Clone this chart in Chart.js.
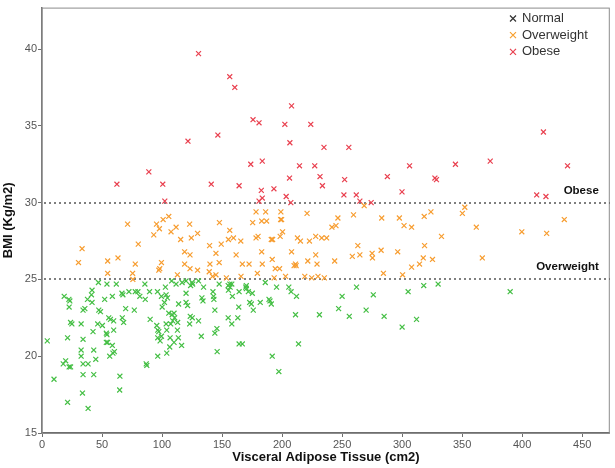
<!DOCTYPE html>
<html>
<head>
<meta charset="utf-8">
<script src="https://cdn.jsdelivr.net/npm/chart.js@4.4.0/dist/chart.umd.min.js"></script>
<style>
  html, body { margin: 0; padding: 0; background: #fff; }
</style>
</head>
<body>
<canvas id="bmiChart" width="615" height="468"></canvas>
<script>
// Axis ticks
const xTicks = [0, 50, 100, 150, 200, 250, 300, 350, 400, 450];
const yTicks = [15, 20, 25, 30, 35, 40];

// Cut-offs drawn as dotted lines
const cutoffValues = [30, 25];
const cutoffLabels = ['Obese', 'Overweight'];

// Groups
const groupNames = ['Normal', 'Overweight', 'Obese'];
const pointColors = ['#45bf45', '#f79d30', '#e9404f'];
const legendColors = ['#333333', '#f7a030', '#e8404f'];

// Normal: visceral adipose tissue (cm2) / BMI
const normalVat = [4.4, 10.0, 21.3, 18.5, 22.4, 23.2, 22.6, 23.8, 24.9, 21.3, 17.7, 19.7, 22.6, 23.8, 33.7, 38.4, 34.2, 43.1, 32.6, 32.6,
  34.2, 38.4, 34.2, 32.6, 34.2, 35.7, 37.9, 41.2, 41.7, 41.7, 43.1, 44.8, 42.5, 46.4, 50.3, 47.0, 47.3, 48.7, 52.2, 58.6,
  54.1, 61.9, 55.6, 57.0, 59.7, 53.6, 54.1, 59.7, 53.6, 54.7, 58.6, 56.4, 59.1, 60.3, 64.9, 64.7, 66.6, 67.4, 72.4, 77.7,
  79.9, 69.7, 76.9, 66.9, 68.0, 81.5, 86.0, 85.7, 89.6, 96.2, 102.8, 90.1, 86.8, 87.3, 96.4, 95.6, 96.4, 97.3, 96.4, 98.4,
  99.5, 99.5, 102.0, 103.4, 104.5, 100.1, 103.4, 103.9, 103.9, 106.4, 105.6, 108.4, 110.0, 110.5, 108.9, 107.2, 113.0, 112.8, 106.7, 113.6,
  116.3, 110.0, 108.0, 111.7, 120.0, 116.7, 120.0, 121.3, 120.0, 113.8, 123.8, 125.5, 125.0, 130.4, 134.6, 123.5, 125.2, 123.0, 130.4, 132.7,
  133.2, 134.1, 142.4, 142.9, 143.2, 144.0, 147.6, 145.7, 144.0, 145.9, 155.1, 156.5, 158.1, 155.3, 156.7, 158.6, 155.1, 158.1, 163.1, 163.9,
  164.2, 166.9, 164.2, 170.2, 170.2, 171.9, 175.2, 169.7, 173.0, 174.4, 176.0, 181.8, 186.0, 189.1, 189.9, 191.0, 195.4, 205.6, 207.5, 212.0,
  191.8, 197.3, 211.2, 231.1, 213.7, 247.1, 250.0, 256.0, 262.0, 270.0, 276.0, 285.0, 300.0, 305.0, 312.0, 318.0, 330.0, 390.0];
const normalBmi = [21.0, 18.5, 17.0, 23.9, 23.7, 23.6, 23.2, 22.2, 22.1, 21.2, 19.5, 19.7, 19.3, 19.3, 17.6, 16.6, 18.8, 18.8, 20.4, 20.0,
  19.5, 19.5, 21.1, 22.1, 23.0, 23.1, 23.7, 24.0, 24.3, 23.5, 20.4, 19.8, 21.6, 22.1, 22.0, 24.8, 23.0, 22.9, 23.7, 23.9,
  24.7, 24.7, 22.5, 22.4, 22.3, 21.5, 21.4, 21.7, 20.9, 20.9, 20.7, 20.0, 20.2, 20.3, 18.7, 17.8, 24.1, 24.0, 24.2, 24.2,
  24.2, 23.1, 23.0, 22.5, 22.2, 23.9, 23.7, 24.7, 24.2, 24.2, 24.5, 22.4, 19.5, 19.4, 20.0, 22.0, 21.7, 21.6, 21.2, 21.0,
  21.3, 23.9, 23.5, 24.0, 23.8, 23.2, 22.1, 21.7, 20.2, 20.6, 22.8, 22.7, 22.8, 22.5, 22.3, 22.1, 22.2, 21.7, 21.2, 21.2,
  20.7, 20.9, 24.9, 24.7, 24.9, 24.8, 24.1, 23.3, 23.5, 23.4, 24.6, 24.7, 24.8, 24.9, 24.5, 22.6, 22.5, 22.1, 22.3, 21.3,
  23.8, 23.6, 24.2, 23.9, 23.7, 23.0, 24.7, 21.8, 21.5, 20.3, 24.6, 24.7, 24.7, 24.3, 24.5, 23.9, 22.5, 22.1, 22.5, 23.2,
  20.8, 20.8, 24.2, 24.6, 24.4, 24.2, 24.1, 24.5, 23.5, 23.4, 23.0, 23.5, 24.8, 23.7, 23.6, 23.4, 24.5, 24.5, 24.2, 23.9,
  20.0, 19.0, 22.7, 22.7, 20.8, 23.1, 23.9, 22.6, 24.5, 23.0, 24.0, 22.6, 21.9, 24.2, 22.4, 24.6, 24.7, 24.2];

// Overweight
const overweightVat = [33.4, 30.4, 54.7, 63.3, 54.7, 71.3, 80.2, 77.7, 75.5, 75.7, 93.1, 95.4, 97.8, 100.9, 105.6, 107.5, 111.7, 99.5, 97.3, 98.1,
  115.5, 123.0, 124.4, 129.6, 118.8, 123.3, 118.8, 123.3, 129.6, 112.8, 139.6, 147.8, 149.3, 144.9, 147.6, 139.9, 139.3, 142.0, 144.9, 153.6,
  156.4, 155.3, 159.5, 161.7, 165.6, 166.9, 172.5, 165.8, 175.5, 178.3, 186.3, 183.0, 187.1, 178.3, 180.0, 183.0, 183.5, 179.4, 191.0, 192.1,
  191.8, 194.3, 197.9, 193.4, 199.0, 199.6, 198.8, 200.4, 198.4, 202.9, 207.9, 210.0, 211.7, 211.2, 212.8, 215.3, 220.8, 222.8, 228.0, 233.0,
  237.1, 221.4, 228.0, 229.1, 218.9, 224.7, 229.9, 235.2, 241.5, 244.9, 243.8, 246.5, 268.4, 259.5, 283.0, 297.7, 301.6, 307.9, 318.4, 324.0,
  350.2, 352.2, 361.8, 399.7, 420.4, 435.1, 332.8, 263.1, 258.5, 264.8, 275.0, 275.3, 282.5, 296.3, 318.7, 317.6, 325.3, 366.8, 307.9, 314.5,
  284.4, 300.4];
const overweightBmi = [27.0, 26.1, 26.2, 26.4, 25.4, 28.6, 27.3, 26.0, 25.4, 25.0, 27.9, 28.6, 28.3, 28.9, 29.1, 28.1, 28.4, 26.1, 25.6, 25.7,
  27.6, 28.6, 27.7, 28.0, 26.8, 26.6, 26.0, 25.7, 25.6, 25.3, 27.2, 28.7, 27.3, 26.7, 26.1, 26.0, 25.5, 25.2, 25.3, 25.1,
  28.2, 27.6, 27.7, 26.6, 27.5, 26.0, 26.0, 25.2, 28.7, 29.4, 29.4, 28.8, 28.8, 27.7, 27.8, 26.8, 26.0, 25.4, 27.6, 27.6,
  26.3, 25.7, 25.7, 25.1, 29.4, 28.9, 28.9, 28.1, 27.8, 25.2, 26.8, 25.9, 25.9, 26.0, 27.7, 27.5, 29.3, 27.5, 27.8, 27.7,
  27.7, 26.2, 26.6, 26.0, 25.2, 25.1, 25.2, 25.1, 28.4, 28.5, 26.2, 29.0, 29.8, 29.2, 29.0, 29.0, 28.5, 28.4, 29.1, 29.4,
  29.3, 29.7, 28.4, 28.1, 28.0, 28.9, 27.8, 27.2, 26.5, 26.6, 26.7, 26.4, 26.9, 26.8, 27.2, 26.4, 26.3, 26.4, 25.8, 26.0,
  25.4, 25.3];

// Obese
const obeseVat = [130.4, 156.4, 160.6, 207.9, 175.8, 180.8, 202.3, 223.9, 121.6, 146.5, 206.5, 234.9, 255.6, 173.9, 183.5, 214.5, 227.2, 306.2, 344.4, 89.0,
  62.4, 100.6, 141.0, 164.2, 206.2, 231.6, 233.6, 252.1, 287.7, 327.3, 328.6, 182.7, 193.2, 183.5, 180.8, 203.4, 207.3, 251.5, 261.8, 264.8,
  274.2, 299.9, 102.3, 373.4, 437.8, 412.1, 419.8, 417.7];
const obeseBmi = [39.7, 38.2, 37.5, 36.3, 35.4, 35.2, 35.1, 35.1, 34.0, 34.4, 33.9, 33.6, 33.6, 32.5, 32.7, 32.4, 32.4, 32.4, 32.5, 32.0,
  31.2, 31.2, 31.2, 31.1, 31.6, 31.7, 31.1, 31.5, 31.7, 31.6, 31.5, 30.8, 30.9, 30.3, 30.1, 30.4, 30.0, 30.5, 30.5, 30.1,
  30.0, 30.7, 30.1, 32.7, 32.4, 30.5, 30.4, 34.6];

const tickFont = { family: '"Liberation Sans Narrow", "Arial Narrow", Arial, sans-serif', size: 11 };
const titleFont = { family: 'Arial, "Liberation Sans", sans-serif', size: 13, weight: 'bold' };

function toPoints(xs, ys) {
  return xs.map((x, i) => ({ x: x, y: ys[i] }));
}

// Frame, dotted cut-off lines and the legend
const decorations = {
  id: 'decorations',
  beforeDatasetsDraw(chart) {
    const ctx = chart.ctx;
    const area = chart.chartArea;
    const yScale = chart.scales.y;
    ctx.save();
    ctx.strokeStyle = '#8c8c8c';
    ctx.lineWidth = 1;
    ctx.strokeRect(area.left, area.top + 0.5, area.right - area.left - 0.5, area.bottom - area.top);

    ctx.strokeStyle = '#555';
    ctx.lineWidth = 1.5;
    ctx.setLineDash([2, 3]);
    ctx.font = 'bold 11.5px Arial, "Liberation Sans", sans-serif';
    ctx.fillStyle = '#111';
    ctx.textAlign = 'right';
    ctx.textBaseline = 'middle';
    cutoffValues.forEach((v, i) => {
      const y = Math.round(yScale.getPixelForValue(v));
      ctx.beginPath();
      ctx.moveTo(area.left + 2, y);
      ctx.lineTo(area.right, y);
      ctx.stroke();
      ctx.fillText(cutoffLabels[i], area.right - 11, y - 12);
    });
    ctx.restore();
  },
  afterDraw(chart) {
    const ctx = chart.ctx;
    ctx.save();
    ctx.font = '13px Arial, "Liberation Sans", sans-serif';
    ctx.textBaseline = 'middle';
    ctx.textAlign = 'left';
    groupNames.forEach((name, i) => {
      const cx = 513, cy = 18.5 + i * 16.7;
      ctx.strokeStyle = legendColors[i];
      ctx.lineWidth = 1.2;
      ctx.beginPath();
      ctx.moveTo(cx - 3, cy - 3); ctx.lineTo(cx + 3, cy + 3);
      ctx.moveTo(cx + 3, cy - 3); ctx.lineTo(cx - 3, cy + 3);
      ctx.stroke();
      ctx.fillStyle = '#333';
      ctx.fillText(name, 522, cy);
    });
    ctx.restore();
  }
};

function makeDataset(i, xs, ys) {
  return {
    label: groupNames[i],
    data: toPoints(xs, ys),
    pointStyle: 'crossRot',
    pointRadius: 3.5,
    pointBorderWidth: 1.2,
    pointBorderColor: pointColors[i],
    pointBackgroundColor: pointColors[i],
    borderColor: pointColors[i],
    backgroundColor: pointColors[i],
    showLine: false
  };
}

const ctx = document.getElementById('bmiChart').getContext('2d');
new Chart(ctx, {
  type: 'scatter',
  data: {
    datasets: [
      makeDataset(0, normalVat, normalBmi),
      makeDataset(1, overweightVat, overweightBmi),
      makeDataset(2, obeseVat, obeseBmi)
    ]
  },
  options: {
    responsive: false,
    animation: false,
    events: [],
    layout: { padding: { top: 2, right: 2, left: 0, bottom: 0 } },
    plugins: {
      legend: { display: false },
      tooltip: { enabled: false }
    },
    scales: {
      x: {
        type: 'linear',
        min: 0,
        max: 473,
        afterBuildTicks: s => { s.ticks = xTicks.map(v => ({ value: v })); },
        afterFit: s => { s.height = 35; },
        border: { color: '#6e6e6e', width: 1.5 },
        grid: { drawOnChartArea: false, drawTicks: true, tickLength: 4, color: '#6e6e6e' },
        ticks: { color: '#555', font: tickFont, padding: 1, maxRotation: 0 },
        title: { display: true, text: 'Visceral Adipose Tissue (cm2)', color: '#111', font: titleFont, padding: { top: 0, bottom: 3 } }
      },
      y: {
        type: 'linear',
        min: 15,
        max: 42.7,
        afterBuildTicks: s => { s.ticks = yTicks.map(v => ({ value: v })); },
        afterFit: s => { s.width = 42; },
        border: { color: '#6e6e6e', width: 1.5 },
        grid: { drawOnChartArea: false, drawTicks: true, tickLength: 4, color: '#6e6e6e' },
        ticks: { color: '#555', font: tickFont, padding: 1 },
        title: { display: true, text: 'BMI (Kg/m2)', color: '#111', font: titleFont, padding: { top: 1, bottom: 0 } }
      }
    }
  },
  plugins: [decorations]
});
</script>
</body>
</html>
